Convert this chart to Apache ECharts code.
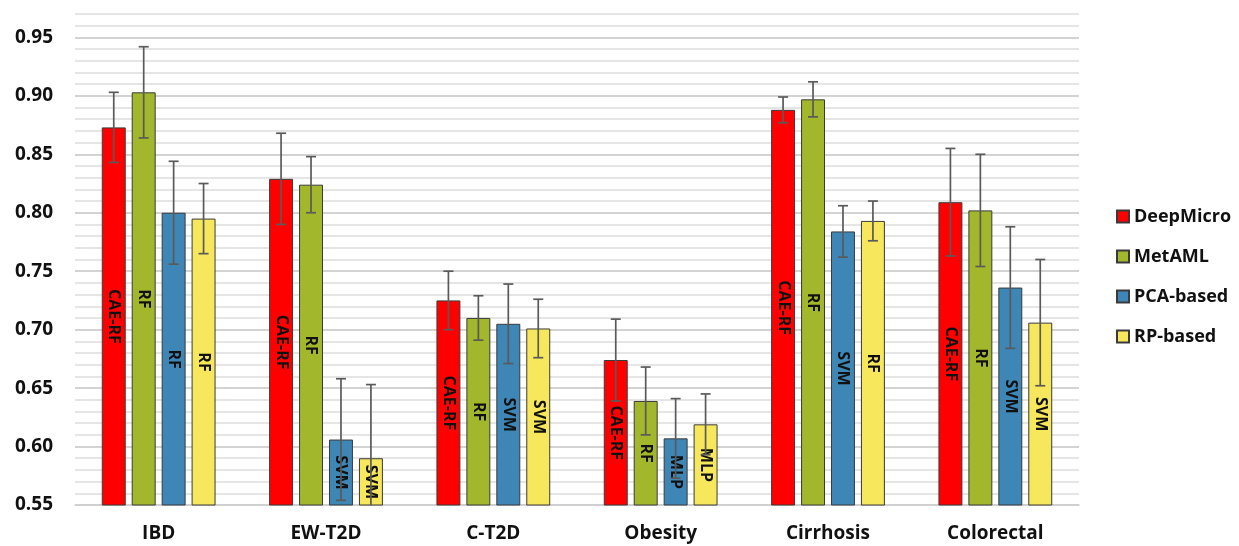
<!DOCTYPE html>
<html>
<head>
<meta charset="utf-8">
<script src="https://cdn.jsdelivr.net/npm/echarts@6/dist/echarts.min.js"></script>
<style>html,body{margin:0;padding:0;background:#fff}#c{width:1239px;height:546px}</style>
</head>
<body>
<div id="c"></div>
<script>
const categories = ['IBD', 'EW-T2D', 'C-T2D', 'Obesity', 'Cirrhosis', 'Colorectal'];
const seriesNames = ['DeepMicro', 'MetAML', 'PCA-based', 'RP-based'];

const deepMicro = [0.873, 0.829, 0.725, 0.674, 0.888, 0.809];
const deepMicroErr = [0.030, 0.039, 0.025, 0.035, 0.011, 0.046];
const metAML = [0.903, 0.824, 0.710, 0.639, 0.897, 0.802];
const metAMLErr = [0.039, 0.024, 0.019, 0.029, 0.015, 0.048];
const pcaBased = [0.800, 0.606, 0.705, 0.607, 0.784, 0.736];
const pcaBasedErr = [0.044, 0.052, 0.034, 0.034, 0.022, 0.052];
const rpBased = [0.795, 0.590, 0.701, 0.619, 0.793, 0.706];
const rpBasedErr = [0.030, 0.063, 0.025, 0.026, 0.017, 0.054];

const deepMicroModels = ['CAE-RF', 'CAE-RF', 'CAE-RF', 'CAE-RF', 'CAE-RF', 'CAE-RF'];
const metAMLModels = ['RF', 'RF', 'RF', 'RF', 'RF', 'RF'];
const pcaBasedModels = ['RF', 'SVM', 'SVM', 'MLP', 'SVM', 'SVM'];
const rpBasedModels = ['RF', 'SVM', 'SVM', 'MLP', 'RF', 'SVM'];

const yMin = 0.55, yMax = 0.97, yStep = 0.01;

const values = [deepMicro, metAML, pcaBased, rpBased];
const errors = [deepMicroErr, metAMLErr, pcaBasedErr, rpBasedErr];
const models = [deepMicroModels, metAMLModels, pcaBasedModels, rpBasedModels];
const colors = ['#FF0000', '#A2B72B', '#3E86B5', '#F6E75C'];

const CAT_GAP = 0.32, BAR_GAP = 0.25, N = 4;
const FONT = '"Open Sans", "Liberation Sans", sans-serif';

const series = values.map((vals, s) => ({
  name: seriesNames[s],
  type: 'bar',
  data: vals.map((v, i) => ({ value: v, model: models[s][i] })),
  barGap: (BAR_GAP * 100) + '%',
  barCategoryGap: (CAT_GAP * 100) + '%',
  itemStyle: { color: colors[s], borderColor: '#3a3a3a', borderWidth: 1 },
  label: {
    show: true, position: 'inside', rotate: -90,
    formatter: p => p.data.model,
    color: '#111', fontWeight: 'bold', fontSize: 16, fontFamily: FONT
  }
}));

const chart = echarts.init(document.getElementById('c'), null, { renderer: 'canvas' });
chart.setOption({
  animation: false,
  backgroundColor: '#fff',
  grid: { left: 75, right: 160, top: 14, bottom: 41 },
  legend: {
    data: seriesNames,
    orient: 'vertical',
    left: 1111, top: 202,
    itemWidth: 12, itemHeight: 12, itemGap: 21,
    icon: 'rect',
    textStyle: { fontSize: 18, fontWeight: 'bold', color: '#111', fontFamily: FONT, lineHeight: 19 }
  },
  xAxis: {
    type: 'category',
    data: categories,
    axisLine: { show: true, lineStyle: { color: '#cfcfcf', width: 1.5 } },
    axisTick: { show: false },
    axisLabel: { fontSize: 19, fontWeight: 'bold', color: '#111', fontFamily: FONT, margin: 19 }
  },
  yAxis: {
    type: 'value',
    min: yMin, max: yMax, interval: yStep,
    axisLine: { show: false },
    axisTick: { show: false },
    axisLabel: {
      fontSize: 19, fontWeight: 'bold', color: '#111', fontFamily: FONT, margin: 22,
      formatter: v => (Math.round(v * 100) % 5 === 0 ? v.toFixed(2) : '')
    },
    splitLine: {
      lineStyle: {
        color: ['#c4c4c4', '#dcdcdc', '#dcdcdc', '#dcdcdc', '#dcdcdc'],
        width: 1.5
      }
    }
  },
  series: series
});

// Error bars, positioned through the chart's own axis scales
const finder = { gridIndex: 0 };
const px = (i, v) => chart.convertToPixel(finder, [i, v]);
const band = px(1, yMin)[0] - px(0, yMin)[0];
const bw = band * (1 - CAT_GAP) / (N + (N - 1) * BAR_GAP);
const gap = bw * BAR_GAP;
const cap = 5;
const st = { stroke: '#5a5a5a', lineWidth: 1.7 };
const elements = [];
values.forEach((vals, s) => {
  vals.forEach((v, i) => {
    const e = errors[s][i];
    const cx = px(i, v)[0] - (N * bw + (N - 1) * gap) / 2 + s * (bw + gap) + bw / 2;
    const lo = v - e;
    const yt = px(i, Math.min(v + e, yMax))[1];
    const yb = px(i, Math.max(lo, yMin))[1];
    elements.push({ type: 'line', z: 50, silent: true, shape: { x1: cx, y1: yt, x2: cx, y2: yb }, style: st });
    elements.push({ type: 'line', z: 50, silent: true, shape: { x1: cx - cap, y1: yt, x2: cx + cap, y2: yt }, style: st });
    if (lo >= yMin) {
      elements.push({ type: 'line', z: 50, silent: true, shape: { x1: cx - cap, y1: yb, x2: cx + cap, y2: yb }, style: st });
    }
  });
});
chart.setOption({ graphic: elements });
</script>
</body>
</html>
